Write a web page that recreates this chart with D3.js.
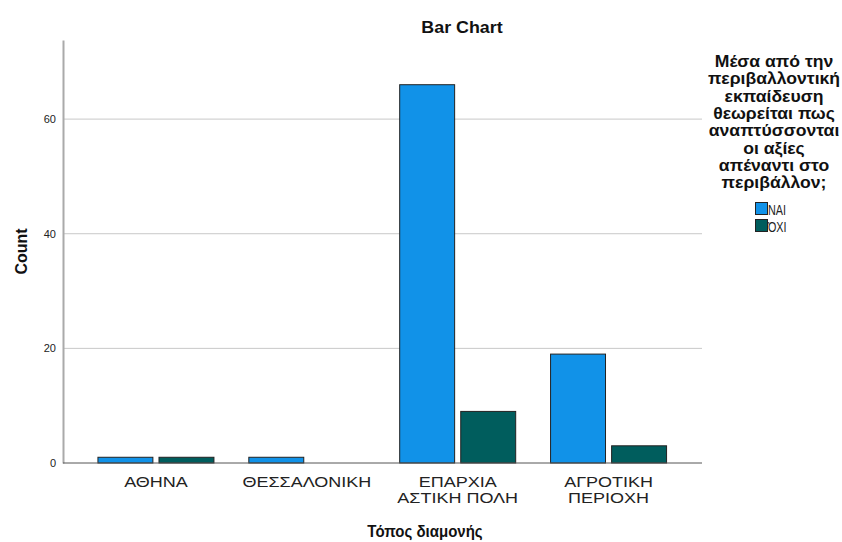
<!DOCTYPE html>
<html><head><meta charset="utf-8">
<script src="https://cdn.jsdelivr.net/npm/d3@7"></script>
<style>body{margin:0;background:#fff;font-family:"Liberation Sans",Arial,sans-serif}</style>
</head><body>
<svg id="c" width="842" height="542"></svg>
<script>
const categories = [["ΑΘΗΝΑ"],["ΘΕΣΣΑΛΟΝΙΚΗ"],["ΕΠΑΡΧΙΑ","ΑΣΤΙΚΗ ΠΟΛΗ"],["ΑΓΡΟΤΙΚΗ","ΠΕΡΙΟΧΗ"]];
const seriesNames = ["ΝΑΙ","ΌΧΙ"];
const naiValues = [1, 1, 66, 19];
const oxiValues = [1, 0, 9, 3];
const yTicks = [0, 20, 40, 60];
const colors = ["#1192E8", "#005D5D"];
const legendTitle = ["Μέσα από την","περιβαλλοντική","εκπαίδευση","θεωρείται πως","αναπτύσσονται","οι αξίες","απέναντι στο","περιβάλλον;"];

const svg = d3.select("#c");
const x0 = d3.scaleBand().domain(d3.range(categories.length)).range([80.5, 684]);
const x1 = d3.scaleBand().domain([0,1]).range([-58, 58]).paddingInner(0.1);
const y = d3.scaleLinear().domain([0, 73.8]).range([463, 40]);

function stext(g, x, yy, str, size, sx, opts={}) {
  return g.append("text")
    .attr("transform", `translate(${x},${yy}) scale(${sx},1)`)
    .attr("x", 0).attr("y", 0)
    .attr("text-anchor", opts.anchor || "middle")
    .attr("font-size", size)
    .attr("font-weight", opts.bold ? "bold" : "normal")
    .attr("fill", opts.fill || "#222")
    .text(str);
}

// gridlines
svg.append("g").selectAll("line").data(yTicks.filter(d=>d>0)).join("line")
  .attr("x1",63).attr("x2",702).attr("y1",d=>y(d)).attr("y2",d=>y(d))
  .attr("stroke","#c8c8c8").attr("stroke-width",1);

// bars
const series = [naiValues, oxiValues];
series.forEach((vals, si) => {
  svg.append("g").selectAll("rect").data(vals.map((v,i)=>({v,i})).filter(d=>d.v>0)).join("rect")
    .attr("x", d => x0(d.i) + x0.bandwidth()/2 + x1(si))
    .attr("width", x1.bandwidth())
    .attr("y", d => y(d.v))
    .attr("height", d => y(0) - y(d.v))
    .attr("fill", colors[si]).attr("stroke","#222").attr("stroke-width",1);
});

// axes
const yAxis = d3.axisLeft(y).tickValues(yTicks).tickSize(0).tickPadding(7);
const gy = svg.append("g").attr("transform","translate(63,0)").call(yAxis);
gy.select(".domain").attr("stroke","#aaa").attr("stroke-width",2);
gy.selectAll("text").attr("font-size",11).attr("fill","#222").attr("font-family","Liberation Sans, Arial");
svg.append("line").attr("x1",63).attr("x2",702).attr("y1",463).attr("y2",463).attr("stroke","#555").attr("stroke-width",1);

// category labels
const gc = svg.append("g");
categories.forEach((lines,i)=>{
  const cx = x0(i)+x0.bandwidth()/2;
  lines.forEach((l,j)=> stext(gc, cx, 487 + j*16, l, 15, 1.2));
});

// titles
stext(svg, 462, 33, "Bar Chart", 17, 1.05, {bold:true, fill:"#111"});
svg.append("text").attr("transform","translate(27,251.5) rotate(-90)").attr("text-anchor","middle").attr("font-weight","bold").attr("font-size",16).attr("fill","#111").text("Count");
stext(svg, 425, 537, "Τόπος διαμονής", 16, 0.94, {bold:true, fill:"#111"});

// legend
const gl = svg.append("g");
legendTitle.forEach((l,j)=> stext(gl, 774, 67 + j*17.3, l, 16, 1.1, {bold:true, fill:"#111"}));
seriesNames.forEach((n,i)=>{
  svg.append("rect").attr("x",755.5).attr("y",202.5+i*17).attr("width",12).attr("height",12).attr("fill",colors[i]).attr("stroke","#222").attr("stroke-width",1);
  stext(svg, 768, 214.5+i*17, n, 15, 0.72, {anchor:"start"});
});
</script>
</body></html>
